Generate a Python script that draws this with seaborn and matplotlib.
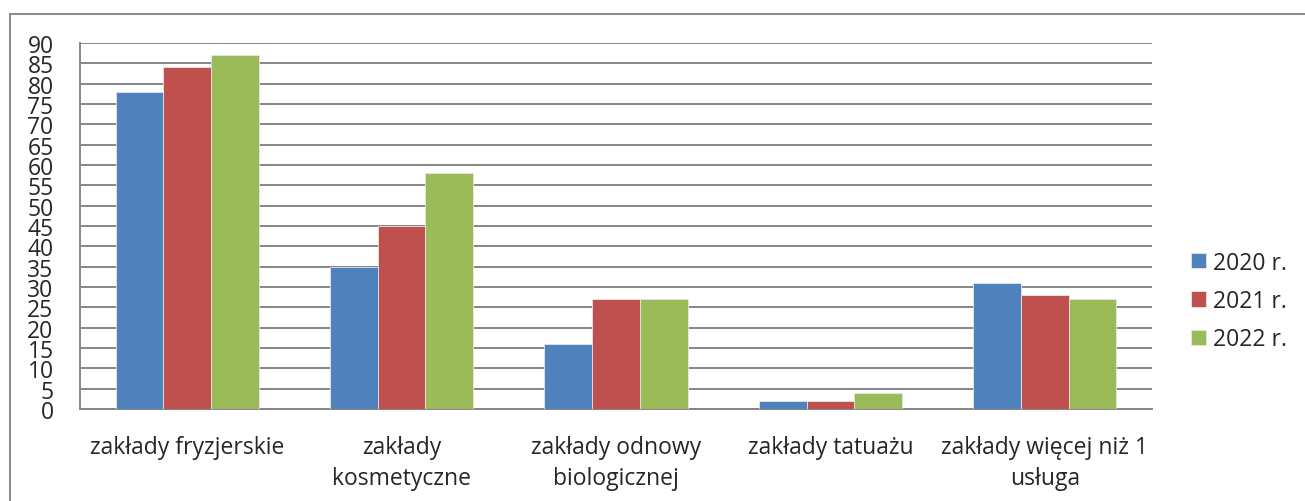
import pandas as pd
import numpy as np
import matplotlib
matplotlib.use("Agg")
import matplotlib.pyplot as plt
import seaborn as sns
from matplotlib.patches import Rectangle

# Data
categories = [
    "zakłady fryzjerskie",
    "zakłady\nkosmetyczne",
    "zakłady odnowy\nbiologicznej",
    "zakłady tatuażu",
    "zakłady więcej niż 1\nusługa",
]
years = ["2020 r.", "2021 r.", "2022 r."]
v2020 = [78, 35, 16, 2, 31]
v2021 = [84, 45, 27, 2, 28]
v2022 = [87, 58, 27, 4, 27]
y_ticks = list(range(0, 95, 5))

colors = {"2020 r.": "#4F81BD", "2021 r.": "#C0504D", "2022 r.": "#9BBB59"}

# long table for seaborn
df = pd.DataFrame({
    "kategoria": categories * 3,
    "rok": [years[0]] * 5 + [years[1]] * 5 + [years[2]] * 5,
    "wartosc": v2020 + v2021 + v2022,
})

sns.set_style("white")
plt.rcParams["font.family"] = ["Open Sans", "DejaVu Sans"]
fs = 16.5

fig = plt.figure(figsize=(13.05, 5.02), dpi=100)
ax = fig.add_axes([80 / 1305, 1 - 410 / 502, (1152 - 80) / 1305, (410 - 44) / 502])

sns.barplot(data=df, x="kategoria", y="wartosc", hue="rok", order=categories,
            hue_order=years, palette=colors, saturation=1, width=0.667,
            edgecolor="#e6e6e6", linewidth=0.6, ax=ax, zorder=3)

grid_col = "#868686"
ax.set_ylim(0, 90)
ax.set_xlim(-0.5, len(categories) - 0.5)
ax.set_yticks(y_ticks)
ax.set_yticklabels([str(t) for t in y_ticks], fontsize=fs)
ax.yaxis.grid(True, color=grid_col, linewidth=1.4, zorder=0)
ax.set_axisbelow(True)

# category boundaries get the tick marks, labels sit in the middle
ax.set_xticks(np.arange(-0.5, len(categories), 1.0))
ax.set_xticklabels([])
ax.set_xticks(np.arange(len(categories)), minor=True)
ax.set_xticklabels(categories, minor=True, fontsize=fs, linespacing=1.38)
ax.tick_params(axis="x", which="major", length=7, width=1.4, color=grid_col, direction="out")
ax.tick_params(axis="x", which="minor", length=0, pad=19)
ax.tick_params(axis="y", length=8, width=1.4, color=grid_col, pad=11, direction="out")

for s in ["top", "right"]:
    ax.spines[s].set_visible(False)
for s in ["left", "bottom"]:
    ax.spines[s].set_color(grid_col)
    ax.spines[s].set_linewidth(1.4)

ax.set_xlabel("")
ax.set_ylabel("")

handles, labels = ax.get_legend_handles_labels()
ax.legend(handles, labels, loc="center left", bbox_to_anchor=(1191 / 1305, 1 - 302 / 502),
          bbox_transform=fig.transFigure, frameon=False, fontsize=fs,
          handlelength=0.65, handleheight=0.65, handletextpad=0.3,
          labelspacing=0.62, borderpad=0, borderaxespad=0)

# outer chart frame (only left and top edges show in the picture)
fig.add_artist(Rectangle((10 / 1305, -0.1), 1.2, 1 - 15 / 502 + 0.1,
                         transform=fig.transFigure, fill=False,
                         edgecolor="#8c8c8c", linewidth=1.5))

fig.savefig("out.png", dpi=100)
